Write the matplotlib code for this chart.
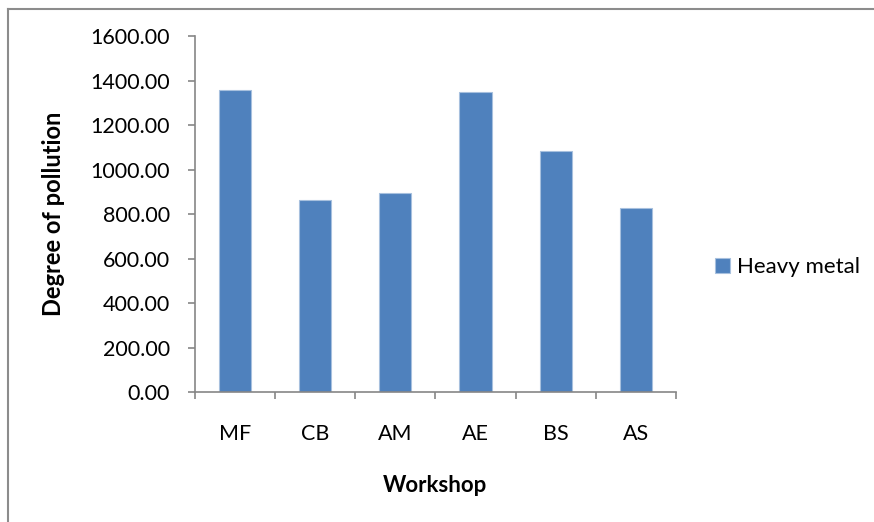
import matplotlib
matplotlib.use("Agg")
import matplotlib.pyplot as plt
from matplotlib.lines import Line2D
import numpy as np

# Data
workshops = ["MF", "CB", "AM", "AE", "BS", "AS"]
heavy_metal = [1356, 864, 895, 1347, 1082, 826]
y_ticks = [0, 200, 400, 600, 800, 1000, 1200, 1400, 1600]

plt.rcParams["font.family"] = ["Lato", "DejaVu Sans"]

bar_color = "#4F81BD"
axis_color = "#868686"

fig = plt.figure(figsize=(8.74, 5.22), dpi=100)
ax = fig.add_axes([0.2228, 0.249, 0.5507, 0.682])

x = np.arange(len(workshops))
ax.bar(x, heavy_metal, width=0.4, color=bar_color, edgecolor="#A7C0DE",
       linewidth=0.8, label="Heavy metal")

ax.set_xlim(-0.5, len(workshops) - 0.5)
ax.set_ylim(0, 1600)

# y axis
ax.set_yticks(y_ticks)
ax.set_yticklabels([f"{v:.2f}" for v in y_ticks])
ax.tick_params(axis="y", direction="out", length=5, width=1.2,
               color=axis_color, pad=13, labelsize=15.5)

# x axis: ticks between categories, labels at category centres
ax.set_xticks(np.arange(len(workshops) + 1) - 0.5)
ax.set_xticklabels([])
ax.set_xticks(x, minor=True)
ax.set_xticklabels(workshops, minor=True)
ax.tick_params(axis="x", which="major", direction="out", length=5,
               width=1.2, color=axis_color)
ax.tick_params(axis="x", which="minor", length=0, pad=23, labelsize=15.5)

for side in ["top", "right"]:
    ax.spines[side].set_visible(False)
for side in ["left", "bottom"]:
    ax.spines[side].set_color(axis_color)
    ax.spines[side].set_linewidth(1.2)

ax.set_ylabel("Degree of pollution", fontsize=17, fontweight="bold",
              labelpad=18)
ax.set_xlabel("Workshop", fontsize=16, fontweight="bold", labelpad=22)

ax.legend(loc="center left", bbox_to_anchor=(1.081, 0.351), frameon=False,
          fontsize=16, handlelength=0.68, handleheight=0.68,
          handletextpad=0.3, borderpad=0, borderaxespad=0)

# partial frame of the chart area
fig.add_artist(Line2D([0.0092, 1.0], [0.983, 0.983], color="#8C8C8C",
                      linewidth=1.5, transform=fig.transFigure))
fig.add_artist(Line2D([0.0092, 0.0092], [0.0, 0.983], color="#8C8C8C",
                      linewidth=1.5, transform=fig.transFigure))

fig.savefig("out.png", dpi=100, facecolor="white")
